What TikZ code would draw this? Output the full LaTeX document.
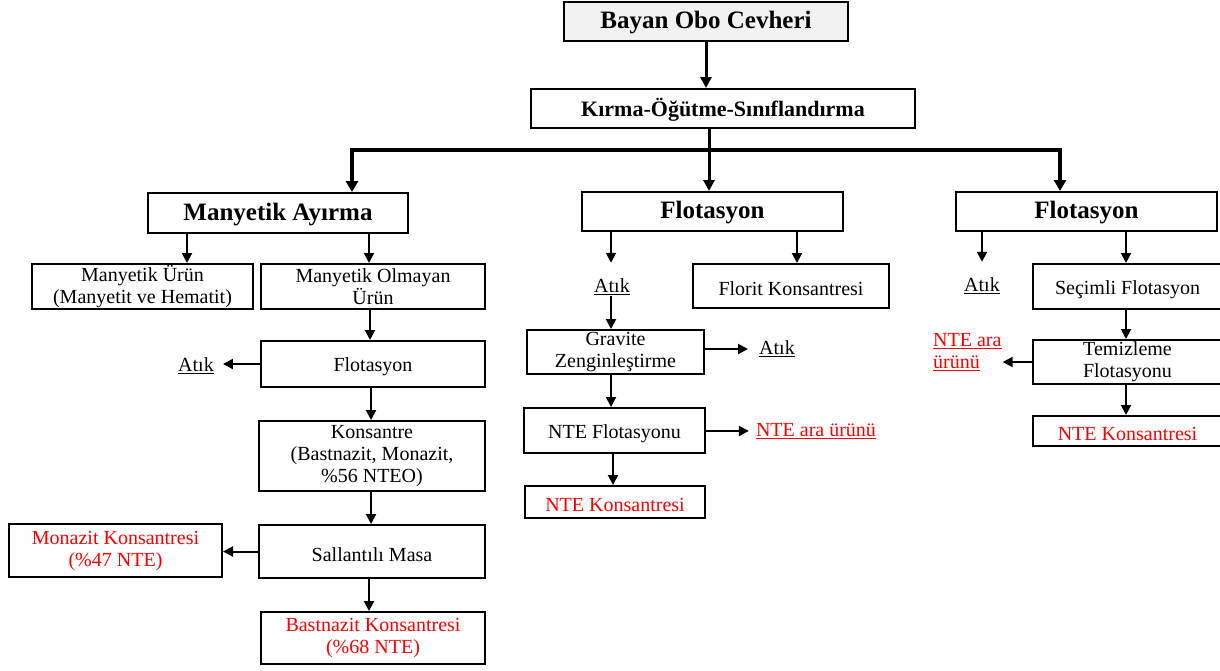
\documentclass[tikz,border=0pt]{standalone}
\usepackage{fontspec}
\setmainfont{Liberation Serif}
\usetikzlibrary{arrows.meta}

\begin{document}
\begin{tikzpicture}[x=1pt, y=-1pt,
  box/.style={draw, line width=2pt, inner sep=0pt, align=center,
    font=\fontsize{20}{22}\selectfont, execute at begin node={\rule{0pt}{20pt}}},
  head/.style={box, font=\bfseries\fontsize{25}{28}\selectfont},
  redbox/.style={box, text=red},
  size/.style 2 args={minimum width=#1pt, minimum height=#2pt},
  tag/.style={inner sep=1pt, font=\fontsize{20}{22}\selectfont},
  flow/.style={line width=2pt, -{Triangle[length=10pt, width=10pt]}},
  bus/.style={line width=3.4pt, {Triangle[length=11pt, width=12pt]}-{Triangle[length=11pt, width=12pt]}}]

% Drawing window
\useasboundingbox (0,0) rectangle (1220,670);
\clip (0,0) rectangle (1220,670);

% Top
\node[head, size={284}{39}, fill=gray!10] (ore) at (706,21.5) {Bayan Obo Cevheri};
\node[box, size={384}{39}, font=\bfseries\fontsize{22}{24}\selectfont] (crush) at (723,108.5) {Kırma-Öğütme-Sınıflandırma};

\node[head, size={260}{40}] (mag) at (278,213) {Manyetik Ayırma};
\node[head, size={261}{39}] (flotA) at (712.5,211.5) {Flotasyon};
\node[head, size={261}{39}] (flotB) at (1086.5,211.5) {Flotasyon};

% Left branch
\node[box, size={221}{45}] (magprod) at (142.5,286.5) {Manyetik Ürün\\(Manyetit ve Hematit)};
\node[box, size={224}{45}] (nonmag) at (373,286.5) {Manyetik Olmayan\\Ürün};
\node[box, size={224}{46}] (flotL) at (373,364) {Flotasyon};
\node[tag] (wasteL) at (196,366) {\underline{Atık}};
\node[box, size={226}{70}] (conc) at (372,456) {Konsantre\\(Bastnazit, Monazit,\\\%56 NTEO)};
\node[box, size={226}{53}] (table) at (372,551.5) {Sallantılı Masa};
\node[redbox, size={213}{53}] (monaz) at (115.5,550.5) {Monazit Konsantresi\\(\%47 NTE)};
\node[redbox, size={224}{52}] (bastn) at (373,638) {Bastnazit Konsantresi\\(\%68 NTE)};

% Middle branch
\node[tag] (wasteA) at (612,287) {\underline{Atık}};
\node[box, size={196}{44}] (florit) at (791,286) {Florit Konsantresi};
\node[box, size={177}{44}] (grav) at (615.5,352) {Gravite\\Zenginleştirme};
\node[tag] (wasteB) at (777,349) {\underline{Atık}};
\node[box, size={181}{45}] (nteflot) at (614.5,430.5) {NTE Flotasyonu};
\node[tag, text=red] (midA) at (816,431) {\underline{NTE ara ürünü}};
\node[redbox, size={180}{32}] (nteconcA) at (615,502) {NTE Konsantresi};

% Right branch
\node[tag] (wasteC) at (982,286) {\underline{Atık}};
\node[box, size={189}{45}] (select) at (1127.5,286.5) {Seçimli Flotasyon};
\node[box, size={189}{44}] (clean) at (1127.5,362) {Temizleme\\Flotasyonu};
\node[tag, text=red, align=left, anchor=west] (midB) at (932,352) {\underline{NTE ara}\\\underline{ürünü}};
\node[redbox, size={189}{30}] (nteconcB) at (1127.5,431) {NTE Konsantresi};

% Connectors
\draw[line width=3pt, -{Triangle[length=11pt, width=11pt]}] (ore) -- (706,0 |- crush.north);
\draw[line width=3pt, -{Triangle[length=11pt, width=11pt]}] (709,0 |- crush.south) -- (709,0 |- flotA.north);
\draw[bus] (352,0 |- mag.north) -- (352,150) -- (1060,150) -- (1060,0 |- flotB.north);

\draw[flow] (187,0 |- mag.south) -- (187,0 |- magprod.north);
\draw[flow] (369,0 |- mag.south) -- (369,0 |- nonmag.north);
\draw[flow] (370,0 |- nonmag.south) -- (370,0 |- flotL.north);
\draw[flow, shorten >=8pt] (flotL.west) -- (wasteL.east |- flotL.west);
\draw[flow] (371,0 |- flotL.south) -- (371,0 |- conc.north);
\draw[flow] (371,0 |- conc.south) -- (371,0 |- table.north);
\draw[flow] (table.west) -- (monaz.east |- table.west);
\draw[flow] (369,0 |- table.south) -- (369,0 |- bastn.north);

\draw[flow, shorten >=15pt] (611,0 |- flotA.south) -- (611,0 |- wasteA.north);
\draw[flow] (797,0 |- flotA.south) -- (797,0 |- florit.north);
\draw[flow] (611,0 |- wasteA.south) -- (611,0 |- grav.north);
\draw[flow, shorten >=10pt] (grav.east |- wasteB) -- (wasteB.west);
\draw[flow] (611,0 |- grav.south) -- (611,0 |- nteflot.north);
\draw[flow, shorten >=6pt] (nteflot.east |- midA) -- (midA.west);
\draw[flow] (613,0 |- nteflot.south) -- (613,0 |- nteconcA.north);

\draw[flow, shorten >=15pt] (982,0 |- flotB.south) -- (982,0 |- wasteC.north);
\draw[flow] (1126,0 |- flotB.south) -- (1126,0 |- select.north);
\draw[flow] (1126,0 |- select.south) -- (1126,0 |- clean.north);
\draw[flow] (clean.west) -- (midB.east |- clean.west);
\draw[flow] (1126,0 |- clean.south) -- (1126,0 |- nteconcB.north);

\end{tikzpicture}
\end{document}
